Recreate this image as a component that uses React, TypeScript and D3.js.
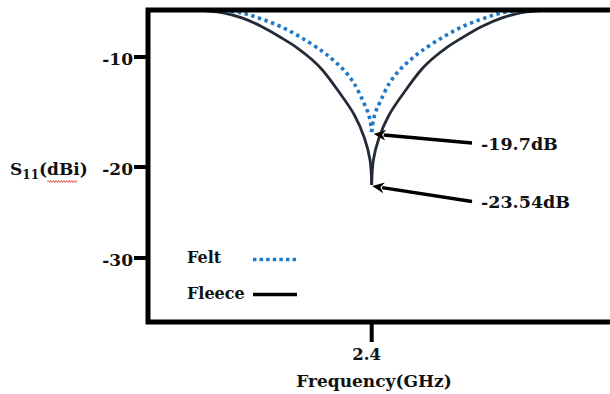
import React from "react";
import * as d3 from "d3";

// ---- data ----
const xTicks = [2.4];
const yTicks = [-10, -20, -30];
const xTickLabels = ["2.4"];
const yTickLabels = ["-10", "-20", "-30"];

const feltFreq = [2.123, 2.168, 2.203, 2.239, 2.275, 2.311, 2.332, 2.35, 2.368, 2.386, 2.393, 2.397, 2.4, 2.403, 2.407, 2.414, 2.432, 2.45, 2.468, 2.489, 2.525, 2.561, 2.597, 2.632, 2.674];
const feltS11 = [-5.73, -6.0, -6.55, -7.27, -8.27, -9.45, -10.32, -11.18, -12.36, -14.18, -15.0, -15.73, -16.82, -15.73, -15.0, -14.18, -12.36, -11.18, -10.32, -9.45, -8.27, -7.27, -6.55, -6.0, -5.73];

const fleeceFreq = [2.085, 2.132, 2.168, 2.203, 2.239, 2.266, 2.293, 2.311, 2.339, 2.369, 2.387, 2.397, 2.4, 2.403, 2.413, 2.431, 2.461, 2.489, 2.507, 2.534, 2.561, 2.597, 2.633, 2.668, 2.718];
const fleeceS11 = [-5.73, -5.96, -6.45, -7.23, -8.27, -9.14, -10.23, -11.14, -13.0, -15.27, -17.36, -19.36, -21.98, -19.36, -17.36, -15.27, -13.0, -11.14, -10.23, -9.14, -8.27, -7.23, -6.45, -5.96, -5.73];

const seriesNames = ["Felt", "Fleece"];
const annotationTexts = ["-19.7dB", "-23.54dB"];

// ---- layout ----
const W = 610;
const H = 394;
const FRAME_L = 148;
const FRAME_T = 10;
const FRAME_R = 620;
const FRAME_B = 322;
const FONT = "'DejaVu Serif', serif";
const FELT_COLOR = "#1e78c8";
const FLEECE_COLOR = "#232b37";

const x = d3.scaleLinear().domain([2.0, 2.8]).range([148, 595.4]);
const y = d3.scaleLinear().domain([-5.73, -10, -20, -30, -37.03]).range([10, 57, 167, 258, 322]);

type Pt = [number, number];

function branches(freq: number[], vals: number[]): [Pt[], Pt[]] {
  const pts: Pt[] = freq.map((f, i) => [x(f), y(vals[i])]);
  const mi = d3.minIndex(vals);
  return [pts.slice(0, mi + 1), pts.slice(mi)];
}

const lineGen = d3.line<Pt>().x((d) => d[0]).y((d) => d[1]).curve(d3.curveCatmullRom.alpha(0.5));

function squiggle(x0: number, x1: number, yy: number): string {
  const p = d3.path();
  p.moveTo(x0, yy);
  let up = true;
  for (let xx = x0 + 1.3; xx <= x1; xx += 1.3) {
    p.lineTo(xx, yy + (up ? -1 : 1));
    up = !up;
  }
  return p.toString();
}

function arrowHead(tip: Pt, tail: Pt): string {
  const ang = Math.atan2(tail[1] - tip[1], tail[0] - tip[0]);
  const L = 12;
  const Wd = 5.5;
  const bx = tip[0] + Math.cos(ang) * L;
  const by = tip[1] + Math.sin(ang) * L;
  const nx = -Math.sin(ang) * Wd;
  const ny = Math.cos(ang) * Wd;
  const mx = tip[0] + Math.cos(ang) * (L * 0.7);
  const my = tip[1] + Math.sin(ang) * (L * 0.7);
  return `M${tip[0]},${tip[1]} L${bx + nx},${by + ny} L${mx},${my} L${bx - nx},${by - ny} Z`;
}

export default function App() {
  const felt = branches(feltFreq, feltS11);
  const fleece = branches(fleeceFreq, fleeceS11);
  const feltMinI = d3.minIndex(feltS11);
  const fleeceMinI = d3.minIndex(fleeceS11);
  const tips: Pt[] = [
    [x(feltFreq[feltMinI]) + 2, y(feltS11[feltMinI]) + 2],
    [x(fleeceFreq[fleeceMinI]) + 0.5, y(fleeceS11[fleeceMinI]) + 1],
  ];
  const tails: Pt[] = [
    [472, tips[0][1] + 9],
    [472, tips[1][1] + 15.5],
  ];

  return (
    <svg
      width={W}
      height={H}
      style={{ position: "absolute", left: 0, top: 0, background: "#fff" }}
      fontFamily={FONT}
      fontWeight="bold"
    >
      {/* curves */}
      {fleece.map((b, i) => (
        <path key={"fl" + i} d={lineGen(b) || ""} fill="none" stroke={FLEECE_COLOR} strokeWidth={2.8} />
      ))}
      {felt.map((b, i) => (
        <path
          key={"fe" + i}
          d={lineGen(b) || ""}
          fill="none"
          stroke={FELT_COLOR}
          strokeWidth={3.6}
          strokeDasharray="3.4,3.6"
        />
      ))}

      {/* frame */}
      <rect
        x={FRAME_L}
        y={FRAME_T}
        width={FRAME_R - FRAME_L}
        height={FRAME_B - FRAME_T}
        fill="none"
        stroke="#000"
        strokeWidth={5}
      />

      {/* y ticks */}
      {yTicks.map((t, i) => (
        <g key={"yt" + i}>
          <line x1={134} x2={FRAME_L} y1={y(t)} y2={y(t)} stroke="#000" strokeWidth={4} />
          <text x={133} y={y(t) + 8} textAnchor="end" fontSize={17} fill="#111">
            {yTickLabels[i]}
          </text>
        </g>
      ))}

      {/* x ticks */}
      {xTicks.map((t, i) => (
        <g key={"xt" + i}>
          <line x1={x(t)} x2={x(t)} y1={FRAME_B} y2={342} stroke="#000" strokeWidth={4} />
          <text x={x(t) - 5} y={360} textAnchor="middle" fontSize={16.5} fill="#111">
            {xTickLabels[i]}
          </text>
        </g>
      ))}

      {/* axis titles */}
      <text x={374} y={387} textAnchor="middle" fontSize={17} fill="#111">
        Frequency(GHz)
      </text>
      <text x={10} y={175} fontSize={17} fill="#111">
        S<tspan fontSize={12} dy={4}>11</tspan>
        <tspan dy={-4}>(dBi)</tspan>
      </text>
      <path d={squiggle(47, 78, 181.5)} fill="none" stroke="#e03030" strokeWidth={0.8} />

      {/* annotations */}
      {tips.map((tp, i) => (
        <g key={"an" + i}>
          <line
            x1={tails[i][0]}
            y1={tails[i][1]}
            x2={tp[0] + 10}
            y2={tp[1] + (tails[i][1] - tp[1]) * (10 / (tails[i][0] - tp[0]))}
            stroke="#000"
            strokeWidth={3.4}
          />
          <path d={arrowHead(tp, tails[i])} fill="#000" />
          <text x={481} y={i === 0 ? 150 : 208} fontSize={17.5} fill="#111">
            {annotationTexts[i]}
          </text>
        </g>
      ))}

      {/* legend */}
      <text x={187} y={263} fontSize={16} fill="#111">
        {seriesNames[0]}
      </text>
      <line x1={253} x2={297} y1={259.5} y2={259.5} stroke={FELT_COLOR} strokeWidth={3.6} strokeDasharray="3.4,3.2" />
      <text x={187} y={299} fontSize={16} fill="#111">
        {seriesNames[1]}
      </text>
      <line x1={253} x2={297} y1={294.5} y2={294.5} stroke="#000" strokeWidth={3.6} />
    </svg>
  );
}
